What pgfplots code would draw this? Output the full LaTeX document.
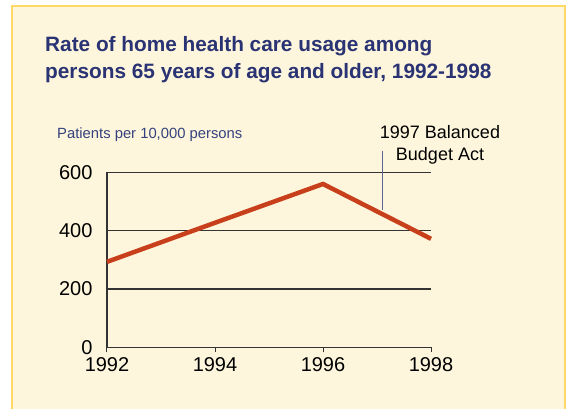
\documentclass[border=0pt]{standalone}
\usepackage{pgfplots}
\pgfplotsset{compat=1.18}
\usepackage{fontspec}
\setmainfont{Liberation Sans}
\definecolor{bgcream}{HTML}{FEF6DC}
\definecolor{bordery}{HTML}{FFD966}
\definecolor{titleblue}{HTML}{2A3373}
\definecolor{lblblue}{HTML}{34417E}
\definecolor{linered}{HTML}{C8401B}
\definecolor{gridgray}{HTML}{333333}
\definecolor{annblue}{HTML}{5A6493}
\begin{document}
\begin{tikzpicture}[x=1pt,y=1pt]
\path[use as bounding box] (0,0) rectangle (566,-409);
\fill[white] (0,0) rectangle (566,-409);
\fill[bgcream] (12,-6) rectangle (565,-409);
\draw[bordery, line width=1.6pt] (12,-409) -- (12,-6) -- (565,-6) -- (565,-409);
\node[anchor=base west, font=\fontsize{20.8}{24}\selectfont\bfseries, text=titleblue, inner sep=0pt] at (45,-52) {Rate of home health care usage among};
\node[anchor=base west, font=\fontsize{20.8}{24}\selectfont\bfseries, text=titleblue, inner sep=0pt] at (45,-79) {persons 65 years of age and older, 1992-1998};
\node[anchor=base west, font=\fontsize{14.8}{16}\selectfont, text=lblblue, inner sep=0pt] at (57,-139) {Patients per 10,000 persons};
\node[anchor=base, font=\fontsize{18}{20}\selectfont, inner sep=0pt] at (440,-139) {1997 Balanced};
\node[anchor=base, font=\fontsize{18}{20}\selectfont, inner sep=0pt] at (440,-161) {Budget Act};
\begin{axis}[
  at={(107pt,-347.3pt)}, anchor=south west,
  scale only axis, width=324pt, height=175pt,
  xmin=1992, xmax=1998, ymin=0, ymax=600,
  axis lines=left, axis line style={-, gridgray, line width=1.3pt},
  xtick={1992,1994,1996,1998}, ytick={0,200,400,600},
  ymajorgrids, grid style={gridgray, line width=1.3pt},
  tick align=outside, major tick length=5pt,
  xtick style={gridgray, line width=1pt}, ytick style={draw=none},
  x tick label style={/pgf/number format/1000 sep={}, font=\fontsize{20}{22}\selectfont, yshift=-2pt},
  y tick label style={font=\fontsize{20}{22}\selectfont, xshift=-6pt},
  /pgf/number format/assume math mode=true,
  clip=false,
]
\addplot[linered, line width=4.5pt, line join=miter] coordinates {
  (1992,293) (1994,427) (1996,560) (1998,372)
};
\draw[annblue, line width=1pt] (axis cs:1997.1,470) -- (axis cs:1997.1,673);
\end{axis}
\end{tikzpicture}
\end{document}
